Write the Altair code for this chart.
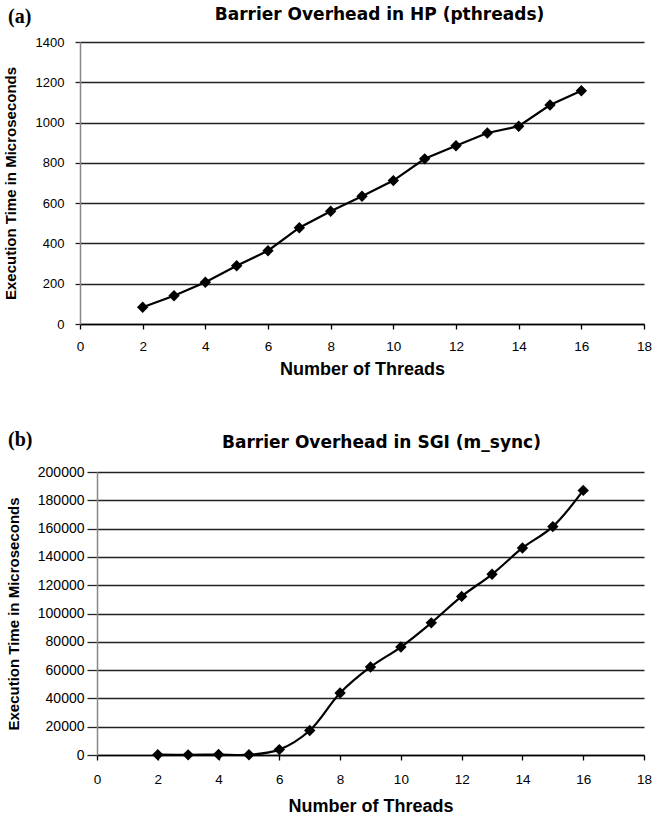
import altair as alt
import pandas as pd

# ---- data ----
threads = [2, 3, 4, 5, 6, 7, 8, 9, 10, 11, 12, 13, 14, 15, 16]
hp_us = [83, 140, 207, 289, 364, 478, 560, 634, 712, 820, 885, 948, 982, 1087, 1158]
sgi_us = [200, 100, 300, 200, 3800, 17300, 43800, 62200, 76300, 93400,
          112100, 127700, 146300, 161400, 187000]
x_ticks = [0, 2, 4, 6, 8, 10, 12, 14, 16, 18]
hp_ticks = [0, 200, 400, 600, 800, 1000, 1200, 1400]
sgi_ticks = [0, 20000, 40000, 60000, 80000, 100000, 120000, 140000, 160000, 180000, 200000]
titles = ["Barrier Overhead in HP (pthreads)", "Barrier Overhead in SGI (m_sync)"]
panel_labels = ["(a)", "(b)"]
x_title = "Number of Threads"
y_title = "Execution Time in Microseconds"

SANS = "Liberation Sans"
W = 564  # common group width


def panel(values, yticks, ymax, title, label, height, inset, interp,
          title_x, title_y, label_x, label_y, y_label_size, y_tick_size,
          y_label_pad, y_title_pad, x_label_pad, x_title_pad):
    df = pd.DataFrame({"threads": threads, "time": values})
    x = alt.X(
        "threads:Q",
        scale=alt.Scale(domain=[0, 18], nice=False, zero=True, range=[inset, W]),
        axis=alt.Axis(
            values=x_ticks, title=x_title, grid=False, labelFlush=False,
            domainColor="black", domainWidth=1.5, tickColor="black",
            tickSize=5, tickWidth=1.3, labelFont=SANS, labelFontSize=13.5,
            labelColor="black", labelPadding=x_label_pad, titleFont=SANS,
            titleFontSize=18, titleFontWeight="bold", titleColor="black",
            titlePadding=x_title_pad, titleX=(inset + W) / 2,
        ),
    )
    y = alt.Y(
        "time:Q",
        scale=alt.Scale(domain=[0, ymax], nice=False),
        axis=alt.Axis(
            values=yticks, format="d", title=y_title, grid=True,
            gridColor="#222222", gridWidth=1.3, domainColor="#888888",
            domainWidth=1.5, tickColor="#222222", tickWidth=1.3,
            tickSize=y_tick_size, labelFont=SANS, labelFontSize=y_label_size,
            labelColor="black", labelPadding=y_label_pad, titleFont=SANS,
            titleFontSize=15, titleFontWeight="bold", titleColor="black",
            titlePadding=y_title_pad, offset=-inset,
        ),
    )
    base = alt.Chart(df).encode(x=x, y=y)
    line = base.mark_line(color="black", strokeWidth=2.2, interpolate=interp)
    pts = base.mark_point(shape="diamond", filled=True, size=130,
                          color="black", opacity=1)
    ttl = alt.Chart(pd.DataFrame({"t": [title]})).mark_text(
        font="DejaVu Sans", fontSize=17, fontWeight="bold", align="center",
        baseline="alphabetic", color="black",
    ).encode(text="t:N", x=alt.value(title_x), y=alt.value(title_y))
    lab = alt.Chart(pd.DataFrame({"t": [label]})).mark_text(
        font="Liberation Serif", fontSize=20, fontWeight="bold", align="left",
        baseline="middle", color="black",
    ).encode(text="t:N", x=alt.value(label_x), y=alt.value(label_y))
    return alt.layer(line, pts, ttl, lab).properties(width=W, height=height)


top = panel(hp_us, hp_ticks, 1400, titles[0], panel_labels[0], 282, 0,
            "linear", 299.5, -21.7, -72, -25, 13, 5, 11, 17, 10, 8)
bottom = panel(sgi_us, sgi_ticks, 200000, titles[1], panel_labels[1], 283, 17,
               "catmull-rom", 301.5, -24, -72, -32, 14, 10, 3, 16, 12, 12)

chart = alt.vconcat(top, bottom, spacing=51).properties(
    padding={"left": 3, "top": 6, "right": 0, "bottom": 0},
    background="white",
).configure_view(stroke=None)

chart.save("out.html", embed_options={"renderer": "svg", "actions": False})
